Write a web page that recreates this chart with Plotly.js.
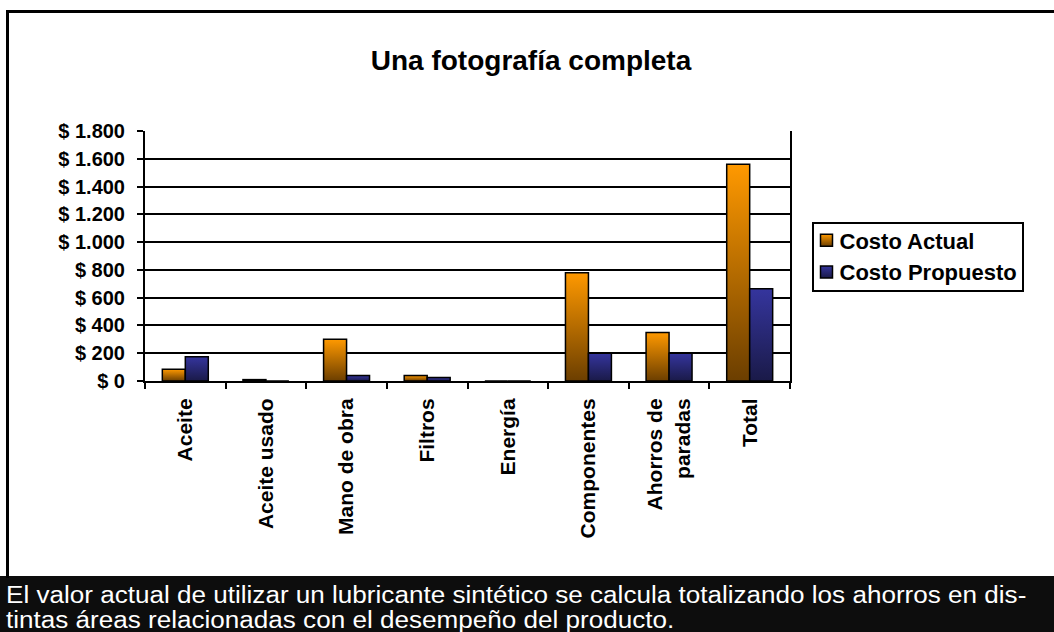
<!DOCTYPE html>
<html>
<head>
<meta charset="utf-8">
<script src="https://cdn.plot.ly/plotly-3.0.1.min.js"></script>
<style>
  html, body { margin: 0; padding: 0; background: #fff; }
  #chart { width: 1054px; height: 632px; }
</style>
</head>
<body>
<div id="chart"></div>
<script>
// ---- data ----
const categories = ["Aceite", "Aceite usado", "Mano de obra", "Filtros", "Energía", "Componentes", "Ahorros de<br>paradas", "Total"];
const costoActual = [85, 10, 300, 40, 0, 780, 350, 1560];
const costoPropuesto = [175, 0, 40, 25, 0, 200, 200, 665];
const seriesNames = ["Costo Actual", "Costo Propuesto"];
const yTickVals = [0, 200, 400, 600, 800, 1000, 1200, 1400, 1600, 1800];
const yTickText = ["$ 0", "$ 200", "$ 400", "$ 600", "$ 800", "$ 1.000", "$ 1.200", "$ 1.400", "$ 1.600", "$ 1.800"];
const chartTitle = "Una fotografía completa";
const captionLines = [
  "El valor actual de utilizar un lubricante sintético se calcula totalizando los ahorros en dis-",
  "tintas áreas relacionadas con el desempeño del producto."
];

// ---- layout geometry (pixels) ----
const W = 1054, H = 632;
const PL = 145, PR = 790, PT = 131, PB = 381;
const px = v => (v - PL) / (PR - PL);
const py = v => (PB - v) / (PB - PT);
const FONT = '"Liberation Sans", Arial, sans-serif';

const traces = [
  { type: 'bar', name: seriesNames[0], x: categories, y: costoActual,
    marker: { color: '#FF9900', line: { color: '#000', width: 1.5 } } },
  { type: 'bar', name: seriesNames[1], x: categories, y: costoPropuesto,
    marker: { color: '#333399', line: { color: '#000', width: 1.5 } } }
];

const captionY = [595, 620];

const layout = {
  width: W, height: H,
  margin: { l: PL, r: W - PR, t: PT, b: H - PB, pad: 0 },
  paper_bgcolor: '#fff', plot_bgcolor: '#fff',
  font: { family: FONT, color: '#000' },
  barmode: 'group', bargap: 0.43, bargroupgap: 0,
  showlegend: true,
  title: { text: '<b>' + chartTitle + '</b>', font: { size: 28, family: FONT, color: '#000' },
           x: 531 / W, xanchor: 'center', xref: 'container', y: 1 - 60 / H, yanchor: 'middle', yref: 'container' },
  xaxis: {
    type: 'category', tickangle: -90, tickson: 'boundaries',
    ticks: 'outside', ticklen: 6, tickwidth: 2, tickcolor: '#000',
    showline: true, linecolor: '#000', linewidth: 2,
    showgrid: false, tickfont: { size: 21, family: FONT, weight: 'bold', color: '#000' },
    ticklabelstandoff: 7, fixedrange: true
  },
  yaxis: {
    range: [0, 1800], tickvals: yTickVals, ticktext: yTickText,
    ticks: 'outside', ticklen: 6, tickwidth: 2, tickcolor: '#000',
    showline: true, linecolor: '#000', linewidth: 2, mirror: true,
    showgrid: true, gridcolor: '#000', gridwidth: 2, zeroline: false,
    tickfont: { size: 20, family: FONT, weight: 'bold', color: '#000' },
    ticklabelstandoff: 8, fixedrange: true
  },
  legend: {
    x: px(812), y: py(222), xanchor: 'left', yanchor: 'top',
    bgcolor: '#fff', bordercolor: '#000', borderwidth: 1.5,
    font: { size: 22, family: FONT, weight: 'bold', color: '#000' },
    itemwidth: 30
  },
  shapes: [
    { type: 'rect', xref: 'paper', yref: 'paper', x0: px(0), x1: px(W), y0: py(H), y1: py(576),
      fillcolor: '#0d0d0d', line: { width: 0 }, layer: 'above' },
    { type: 'line', xref: 'paper', yref: 'paper', x0: px(7.5), x1: px(7.5), y0: py(10), y1: py(578),
      line: { color: '#000', width: 3 } },
    { type: 'line', xref: 'paper', yref: 'paper', x0: px(6), x1: px(W), y0: py(11.5), y1: py(11.5),
      line: { color: '#000', width: 3 } }
  ],
  annotations: captionLines.map((t, i) => ({
    xref: 'paper', yref: 'paper', x: px(4), y: py(captionY[i]), xanchor: 'left', yanchor: 'middle',
    text: t, showarrow: false, align: 'left',
    font: { size: 23, family: FONT, color: '#fff' }
  }))
};

Plotly.newPlot('chart', traces, layout, { staticPlot: true, displayModeBar: false }).then(gd => {
  const svg = gd.querySelector('.main-svg');
  const NS = 'http://www.w3.org/2000/svg';
  let defs = svg.querySelector('defs');
  if (!defs) { defs = document.createElementNS(NS, 'defs'); svg.insertBefore(defs, svg.firstChild); }
  const grads = [['gradActual', '#FF9900', '#6B3E00'], ['gradProp', '#35359E', '#1A1A48']];
  grads.forEach(([id, top, bot]) => {
    const g = document.createElementNS(NS, 'linearGradient');
    g.setAttribute('id', id); g.setAttribute('x1', '0'); g.setAttribute('y1', '0');
    g.setAttribute('x2', '0'); g.setAttribute('y2', '1');
    [[0, top], [1, bot]].forEach(([o, c]) => {
      const s = document.createElementNS(NS, 'stop');
      s.setAttribute('offset', o); s.setAttribute('stop-color', c);
      g.appendChild(s);
    });
    defs.appendChild(g);
  });
  gd.querySelectorAll('.barlayer .trace').forEach((t, i) => {
    t.querySelectorAll('path').forEach(p => { p.style.fill = 'url(#' + grads[i][0] + ')'; });
  });
  gd.querySelectorAll('.legend .traces').forEach((t, i) => {
    t.querySelectorAll('.legendpoints path').forEach(p => { p.style.fill = 'url(#' + grads[i][0] + ')'; });
    // tighten spacing between symbol and label as in the reference
    const pts = t.querySelector('.legendpoints');
    if (pts) pts.setAttribute('transform', 'translate(-7,0)');
    const txt = t.querySelector('.legendtext');
    if (txt) txt.setAttribute('x', +txt.getAttribute('x') - 14);
  });
  const bg = gd.querySelector('.legend .bg');
  if (bg) { bg.setAttribute('width', 210); bg.setAttribute('height', 68); }
  const sb = gd.querySelector('.legend .scrollbox');
  if (sb) sb.setAttribute('transform', (sb.getAttribute('transform') || '') + ' translate(0,-4)');
  // caption text stretched horizontally to span the box like the reference
  const capTexts = gd.querySelectorAll('.annotation-text');
  if (capTexts.length) {
    const bb0 = capTexts[0].getBBox();
    const s = 1021 / bb0.width;
    capTexts.forEach(el => {
      const bb = el.getBBox();
      el.setAttribute('transform', `translate(${bb.x},0) scale(${s},1) translate(${-bb.x},0)`);
    });
  }
});
</script>
</body>
</html>
